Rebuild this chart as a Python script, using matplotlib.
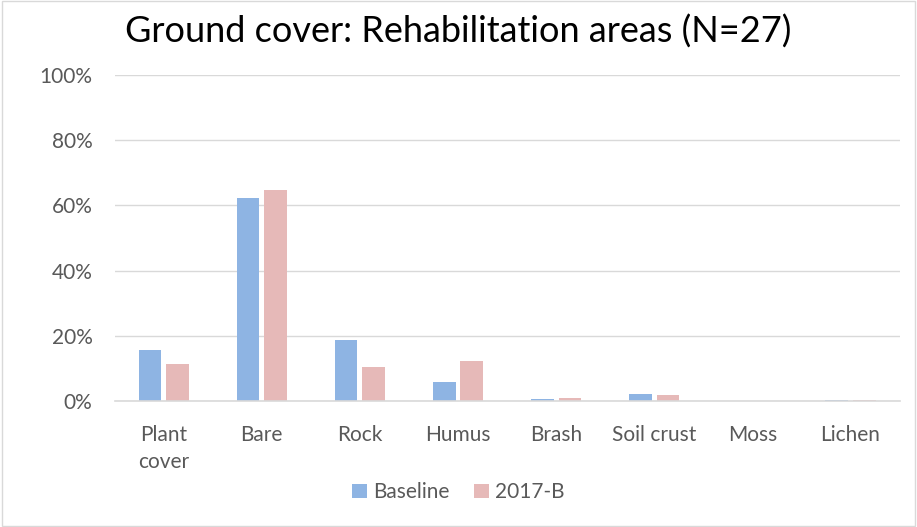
import matplotlib.pyplot as plt
import numpy as np
from matplotlib.patches import Rectangle

categories = ["Plant\ncover", "Bare", "Rock", "Humus", "Brash", "Soil crust", "Moss", "Lichen"]
baseline = [15.6, 62.3, 18.6, 5.9, 0.6, 2.1, 0.0, 0.3]
b2017 = [11.3, 64.7, 10.5, 12.4, 1.0, 1.8, 0.0, 0.4]
yticks = [0, 20, 40, 60, 80, 100]

plt.rcParams['font.family'] = ['Lato', 'DejaVu Sans']
gray = '#595959'

fig = plt.figure(figsize=(9.17, 5.27), dpi=100)
ax = fig.add_axes([0.125, 0.239, 0.856, 0.619])

x = np.arange(len(categories))
w = 0.23
ax.bar(x - w / 2 - 0.025, baseline, w, color='#8EB4E3', label='Baseline')
ax.bar(x + w / 2 + 0.025, b2017, w, color='#E6B9B8', label='2017-B')

ax.set_xlim(-0.5, len(categories) - 0.5)
ax.set_ylim(0, 100)
ax.set_yticks(yticks)
ax.set_yticklabels([f"{t}%" for t in yticks])
ax.set_xticks(x)
ax.set_xticklabels(categories, linespacing=1.45)
ax.tick_params(axis='both', length=0, labelsize=15, colors=gray)
ax.tick_params(axis='y', pad=16)
ax.tick_params(axis='x', pad=17)
ax.grid(axis='y', color='#D9D9D9', linewidth=1)
ax.set_axisbelow(True)
for s in ['top', 'right', 'left']:
    ax.spines[s].set_visible(False)
ax.spines['bottom'].set_color('#D9D9D9')
ax.spines['bottom'].set_linewidth(1.2)

fig.text(0.5, 0.94, "Ground cover: Rehabilitation areas (N=27)", ha='center', va='center',
         fontsize=26, color='black')

fig.legend(loc='center', bbox_to_anchor=(0.5, 0.066), ncol=2, frameon=False,
           fontsize=15, labelcolor=gray, handlelength=0.7, handleheight=0.7,
           handletextpad=0.3, columnspacing=1.2)

fig.patches.append(Rectangle((0.002, 0.002), 0.996, 0.996, transform=fig.transFigure,
                             fill=False, edgecolor='#D9D9D9', linewidth=1))

fig.savefig("out.png", dpi=100)
